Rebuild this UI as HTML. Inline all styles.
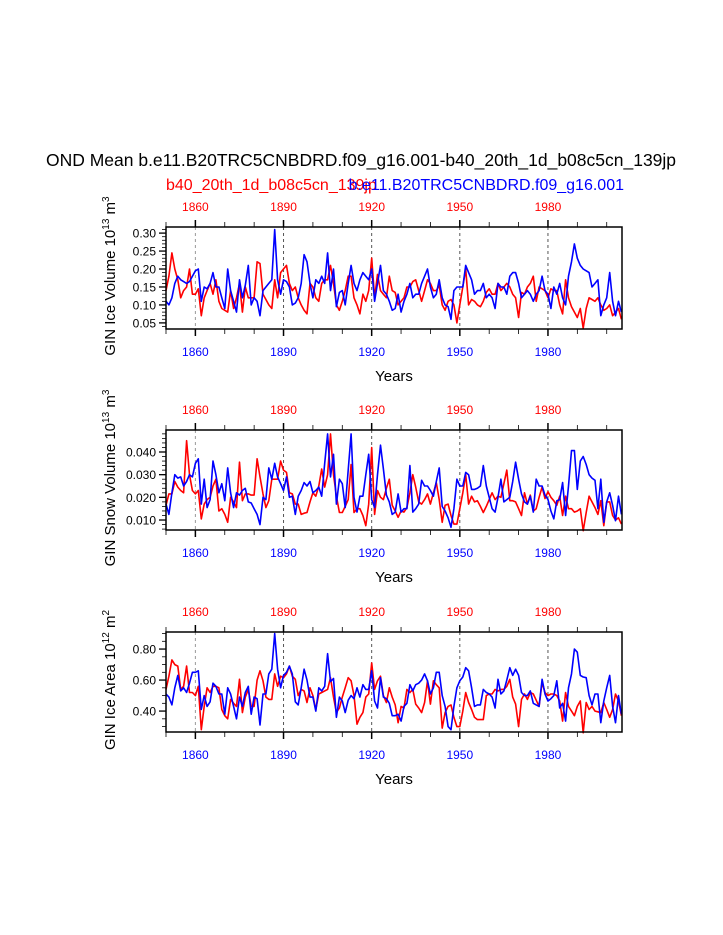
<!DOCTYPE html>
<html><head><meta charset="utf-8"><style>
html,body{margin:0;padding:0;background:#fff;}
svg{display:block;font-family:"Liberation Sans",Arial,sans-serif;}
</style></head><body>
<svg id="chart" width="723" height="935" viewBox="0 0 723 935" xmlns="http://www.w3.org/2000/svg">
<text x="361" y="166" font-size="17.5" text-anchor="middle" fill="#000">OND Mean b.e11.B20TRC5CNBDRD.f09_g16.001-b40_20th_1d_b08c5cn_139jp</text>
<text x="166" y="190" font-size="16" fill="#ff0000">b40_20th_1d_b08c5cn_139jp</text>
<text x="624" y="190" font-size="16" text-anchor="end" fill="#0000ff">b.e11.B20TRC5CNBDRD.f09_g16.001</text>
</svg>
<script>
const years = [];
for (let y = 1850; y <= 2005; y++) years.push(y);
const topTicks = [1860, 1890, 1920, 1950, 1980];

const iceVolBlue = [.11,.10,.12,.16,.18,.17,.165,.16,.165,.18,
.195,.20,.11,.15,.145,.16,.19,.15,.15,.12,
.09,.20,.14,.11,.08,.17,.12,.155,.21,.10,
.12,.11,.07,.14,.15,.16,.17,.31,.17,.13,
.17,.165,.15,.10,.105,.12,.16,.24,.22,.16,
.12,.17,.16,.18,.16,.245,.14,.20,.095,.135,
.14,.10,.16,.21,.16,.14,.17,.19,.18,.17,
.20,.11,.16,.21,.14,.13,.11,.085,.09,.13,
.08,.11,.13,.16,.12,.13,.13,.16,.18,.20,
.15,.12,.13,.17,.12,.10,.095,.06,.14,.15,
.15,.15,.21,.19,.17,.13,.14,.14,.16,.12,
.13,.12,.09,.16,.15,.15,.13,.18,.19,.19,
.16,.12,.13,.14,.13,.11,.13,.14,.18,.14,
.13,.09,.15,.13,.16,.12,.10,.18,.22,.27,
.23,.21,.20,.195,.19,.15,.16,.17,.07,.10,
.12,.19,.11,.07,.11,.08];
const iceVolRed = [.14,.18,.245,.20,.17,.12,.14,.15,.20,.13,
.13,.145,.07,.12,.14,.16,.13,.17,.11,.09,
.085,.08,.14,.09,.12,.16,.08,.15,.12,.12,
.12,.22,.215,.13,.115,.10,.09,.17,.12,.19,
.20,.21,.16,.14,.15,.12,.10,.085,.075,.16,
.15,.12,.11,.16,.17,.17,.21,.16,.10,.085,
.11,.14,.18,.18,.12,.10,.075,.13,.11,.14,
.23,.12,.185,.14,.13,.12,.18,.14,.135,.10,
.11,.12,.15,.15,.165,.17,.14,.11,.14,.17,
.16,.14,.14,.155,.10,.085,.11,.115,.10,.05,
.10,.15,.20,.10,.115,.11,.10,.095,.11,.135,
.145,.13,.13,.16,.14,.15,.16,.15,.13,.12,
.065,.135,.13,.15,.16,.18,.11,.15,.145,.14,
.12,.145,.14,.14,.10,.075,.17,.12,.095,.08,
.065,.09,.035,.09,.12,.115,.11,.12,.10,.085,
.09,.10,.07,.08,.09,.06];

const snowBlue = [.017,.0125,.022,.030,.0285,.029,.025,.027,.030,.029,
.035,.037,.017,.028,.0155,.019,.036,.030,.022,.026,
.0185,.033,.022,.0155,.022,.021,.023,.024,.018,.0175,
.015,.0125,.008,.020,.019,.033,.028,.035,.029,.026,
.023,.029,.020,.0205,.0125,.0205,.023,.0265,.025,.027,
.022,.023,.0245,.0205,.035,.048,.029,.039,.017,.028,
.026,.0155,.032,.048,.020,.0135,.0205,.0205,.030,.039,
.019,.0155,.030,.043,.0325,.021,.018,.0125,.0135,.0215,
.0135,.015,.015,.034,.0135,.015,.017,.0275,.025,.025,
.023,.0205,.027,.033,.016,.014,.011,.0068,.015,.028,
.025,.025,.031,.030,.0235,.0235,.024,.025,.034,.025,
.020,.015,.0135,.020,.028,.018,.019,.020,.027,.0355,
.028,.0215,.018,.017,.0205,.0135,.028,.025,.025,.021,
.019,.014,.0105,.0185,.019,.0265,.012,.025,.0406,.0406,
.0235,.036,.038,.0345,.030,.0285,.0275,.015,.028,.009,
.018,.022,.0165,.0097,.0205,.0125];
const snowRed = [.0165,.0215,.0215,.027,.0245,.023,.022,.045,.030,.023,
.0215,.023,.0105,.017,.019,.020,.025,.028,.014,.015,
.0125,.009,.020,.018,.0155,.0355,.0185,.0215,.0215,.021,
.021,.037,.029,.0215,.0155,.0185,.028,.028,.028,.036,
.032,.031,.022,.0215,.017,.017,.0125,.013,.0133,.018,
.022,.0205,.025,.0325,.0245,.030,.048,.030,.0205,.0133,
.0133,.016,.019,.0345,.0133,.015,.015,.012,.0075,.017,
.042,.0125,.023,.020,.019,.024,.028,.0165,.014,.0112,
.014,.0135,.0155,.022,.030,.0245,.018,.017,.019,.0215,
.017,.022,.0265,.019,.009,.0165,.017,.012,.0082,.0082,
.015,.022,.030,.017,.0205,.018,.0185,.016,.0133,.016,
.019,.022,.019,.0205,.020,.026,.032,.0185,.0185,.018,
.015,.012,.022,.017,.021,.014,.015,.020,.0245,.0195,
.0225,.020,.0185,.0165,.0205,.012,.0205,.015,.015,.0135,
.014,.015,.0053,.0133,.0205,.018,.0155,.0125,.0185,.0075,
.018,.018,.012,.010,.011,.0082];

const areaBlue = [.51,.49,.44,.55,.63,.53,.55,.52,.58,.65,
.65,.66,.41,.50,.43,.46,.58,.56,.51,.51,
.38,.55,.51,.43,.35,.49,.43,.52,.56,.38,
.49,.48,.31,.51,.51,.64,.67,.90,.67,.55,
.63,.65,.69,.64,.46,.44,.55,.67,.60,.49,
.49,.40,.55,.53,.56,.77,.59,.61,.36,.49,
.465,.39,.47,.50,.48,.55,.49,.57,.54,.54,
.66,.465,.42,.615,.49,.48,.45,.37,.37,.38,
.335,.43,.45,.57,.53,.57,.58,.60,.64,.595,
.51,.55,.65,.65,.50,.43,.30,.28,.43,.55,
.595,.62,.68,.66,.55,.43,.44,.44,.54,.52,
.51,.49,.42,.605,.51,.53,.60,.68,.63,.67,
.63,.52,.50,.50,.53,.45,.44,.43,.605,.51,
.465,.48,.50,.595,.42,.45,.335,.55,.64,.80,
.78,.63,.62,.615,.50,.44,.51,.51,.325,.465,
.55,.63,.43,.325,.50,.38];
const areaRed = [.54,.625,.73,.70,.69,.54,.56,.69,.52,.52,
.50,.56,.28,.43,.55,.52,.56,.56,.55,.41,
.37,.35,.475,.45,.43,.605,.39,.49,.54,.43,
.43,.60,.66,.595,.49,.475,.475,.64,.56,.625,
.615,.64,.69,.625,.605,.50,.54,.53,.455,.55,
.50,.41,.51,.52,.53,.54,.615,.49,.39,.42,
.49,.55,.615,.595,.50,.315,.36,.39,.49,.51,
.71,.54,.595,.625,.50,.455,.55,.49,.44,.325,
.43,.42,.54,.52,.54,.445,.42,.39,.455,.595,
.445,.595,.57,.55,.29,.39,.43,.44,.36,.30,
.30,.40,.52,.455,.41,.36,.345,.345,.345,.50,
.51,.51,.54,.53,.54,.54,.56,.605,.49,.445,
.30,.475,.51,.475,.52,.51,.47,.43,.585,.52,
.50,.51,.51,.50,.465,.335,.52,.43,.40,.37,
.43,.465,.26,.455,.41,.43,.40,.395,.39,.455,
.41,.36,.41,.51,.465,.37];

const p1Ticks = ["0.05","0.10","0.15","0.20","0.25","0.30"];
const p2Ticks = ["0.010","0.020","0.030","0.040"];
const p3Ticks = ["0.40","0.60","0.80"];

const NS = "http://www.w3.org/2000/svg";
const svg = document.getElementById("chart");
function mk(tag, attrs, parent) {
  const e = document.createElementNS(NS, tag);
  for (const k in attrs) e.setAttribute(k, attrs[k]);
  (parent || svg).appendChild(e);
  return e;
}
const X0 = 166, X1 = 622, YR0 = 1850, YR1 = 2005.2;
function xScale(yr) { return X0 + (yr - YR0) / (YR1 - YR0) * (X1 - X0); }

const panels = [
  {key:"ice-volume", top:227, bot:329, vmin:0.033, vmax:0.317, blue:iceVolBlue, red:iceVolRed, ticks:p1Ticks, minorStep:0.01, minorFrom:0.04, label:["GIN Ice Volume 10","13"," m","3"]},
  {key:"snow-volume", top:430, bot:530, vmin:0.0056, vmax:0.0497, blue:snowBlue, red:snowRed, ticks:p2Ticks, minorStep:0.002, minorFrom:0.006, label:["GIN Snow Volume 10","13"," m","3"]},
  {key:"ice-area", top:632, bot:732, vmin:0.265, vmax:0.91, blue:areaBlue, red:areaRed, ticks:p3Ticks, minorStep:0.05, minorFrom:0.30, label:["GIN Ice Area 10","12"," m","2"]}
];

panels.forEach(function(p) {
  const g = mk("g", {});
  
  
  const yS = v => p.bot - (v - p.vmin) / (p.vmax - p.vmin) * (p.bot - p.top);
  topTicks.forEach(function(t) {
    const l = mk("line", {x1:xScale(t), x2:xScale(t), y1:p.top, y2:p.bot, stroke: t===1860?"#999":"#555", "stroke-width":1, "stroke-dasharray":"3,3"}, g);
    
    
  });
  [["red", p.red, "#ff0000"], ["blue", p.blue, "#0000ff"]].forEach(function(s) {
    let d = "";
    s[1].forEach(function(v, i) { d += (i ? "L" : "M") + xScale(years[i]).toFixed(1) + "," + yS(v).toFixed(1); });
    const path = mk("path", {d:d, fill:"none", stroke:s[2], "stroke-width":1.6, "stroke-linejoin":"round"}, g);
    
    
  });
  const fr = mk("rect", {x:X0, y:p.top, width:X1-X0, height:p.bot-p.top, fill:"none", stroke:"#000", "stroke-width":1.5}, g);
  
  
  for (let yr = 1850; yr <= 2000; yr += 10) {
    const major = topTicks.indexOf(yr) >= 0;
    const len = major ? 7 : 5, w = major ? 1.5 : 0.8;
    mk("line", {x1:xScale(yr), x2:xScale(yr), y1:p.top, y2:p.top-len, stroke:"#000", "stroke-width":w}, g);
    mk("line", {x1:xScale(yr), x2:xScale(yr), y1:p.bot, y2:p.bot+len, stroke:"#000", "stroke-width":w}, g);
  }
  topTicks.forEach(function(t) {
    const tt = mk("text", {x:xScale(t), y:p.top-16, "font-size":12, "text-anchor":"middle", fill:"#ff0000"}, g);
    tt.textContent = t;
    
    
    const bt = mk("text", {x:xScale(t), y:p.bot+27, "font-size":12, "text-anchor":"middle", fill:"#0000ff"}, g);
    bt.textContent = t;
    
    
  });
  for (let v = p.minorFrom; v < p.vmax; v += p.minorStep) {
    const yy = yS(v);
    if (yy < p.top || yy > p.bot) continue;
    mk("line", {x1:X0, x2:X0-4, y1:yy, y2:yy, stroke:"#000", "stroke-width":0.8}, g);
  }
  p.ticks.forEach(function(lbl) {
    const yy = yS(parseFloat(lbl));
    mk("line", {x1:X0, x2:X0-7, y1:yy, y2:yy, stroke:"#000", "stroke-width":1.3}, g);
    const t = mk("text", {x:X0-10, y:yy+4.5, "font-size":12, "text-anchor":"end", fill:"#000"}, g);
    t.textContent = lbl;
    
    
  });
  const xt = mk("text", {x:394, y:p.bot+52, "font-size":15, "text-anchor":"middle", fill:"#000"}, g);
  xt.textContent = "Years";
  
  
  const cy = (p.top + p.bot) / 2 - 2;
  const yt = mk("text", {x:0, y:0, "font-size":15, "text-anchor":"middle", fill:"#000", transform:"translate(115," + cy + ") rotate(-90)"}, g);
  
  
  const parts = p.label;
  const a = mk("tspan", {}, yt); a.textContent = parts[0];
  const b = mk("tspan", {dy:-6, "font-size":10}, yt); b.textContent = parts[1];
  const c = mk("tspan", {dy:6}, yt); c.textContent = parts[2];
  const d = mk("tspan", {dy:-6, "font-size":10}, yt); d.textContent = parts[3];
});
</script>
</body></html>
